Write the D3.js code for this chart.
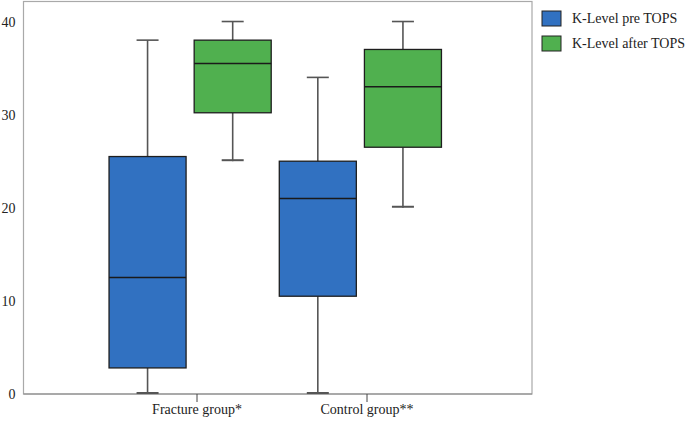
<!DOCTYPE html>
<html><head><meta charset="utf-8">
<script src="https://cdn.jsdelivr.net/npm/d3@7"></script>
<style>body{margin:0;background:#fff}svg{display:block}</style>
</head><body><svg id="c" width="685" height="421"></svg>
<script>
const groups = ["Fracture group*", "Control group**"];
const series = ["K-Level pre TOPS", "K-Level after TOPS"];
const colors = ["#3171c1", "#50b04f"];
const yTicks = [0, 10, 20, 30, 40];
// [min, q1, median, q3, max] per series per group
const preTOPS   = [[0, 2.8, 12.5, 25.5, 38], [0, 10.5, 21, 25, 34]];
const afterTOPS = [[25, 30.2, 35.5, 38, 40], [20, 26.5, 33, 37, 40]];

const FONT = "'Liberation Serif', 'Times New Roman', Times, 'DejaVu Serif', serif";
const svg = d3.select("#c");
const L = 23.5, R = 532, T = 1.5, B = 394;
const y = d3.scaleLinear().domain([0, 42.15]).range([B, T]);
const x = d3.scaleBand().domain(groups).range([105, 445.5]);
const x1 = d3.scaleBand().domain(series).range([0, x.bandwidth()]).paddingInner(0.095).paddingOuter(0.0475);

const data = [];
groups.forEach((g, gi) => {
  [preTOPS, afterTOPS].forEach((arr, si) => {
    const [mn, q1, md, q3, mx] = arr[gi];
    data.push({g, s: series[si], si, mn, q1, md, q3, mx});
  });
});

// frame
svg.append("rect").attr("x", L).attr("y", T).attr("width", R - L).attr("height", B - T)
  .attr("fill", "none").attr("stroke", "#a9a9a9").attr("stroke-width", 1.2);
svg.append("line").attr("x1", L).attr("x2", R).attr("y1", B).attr("y2", B).attr("stroke", "#888").attr("stroke-width", 1.2);

// y axis labels
const ya = svg.append("g").attr("transform", `translate(${L},0)`)
  .call(d3.axisLeft(y).tickValues(yTicks).tickSize(0).tickPadding(8));
ya.select(".domain").remove();
ya.selectAll("text").style("font-size", "14px").style("font-family", FONT).attr("fill", "#222");

// x axis
const xa = svg.append("g").attr("transform", `translate(0,${B})`)
  .call(d3.axisBottom(x.copy().range([112, 452])).tickSizeInner(8).tickSizeOuter(0).tickPadding(2));
xa.select(".domain").remove();
xa.selectAll(".tick line").attr("stroke", "#444");
xa.selectAll("text").style("font-size", "14px").style("font-family", FONT).attr("fill", "#222");

const cx = d => x(d.g) + x1(d.s) + x1.bandwidth() / 2;
const capW = 22;
const g = svg.append("g");
data.forEach(d => {
  const c = cx(d);
  g.append("line").attr("x1", c).attr("x2", c).attr("y1", y(d.q3)).attr("y2", y(d.mx)).attr("stroke", "#555").attr("stroke-width", 1.6);
  g.append("line").attr("x1", c).attr("x2", c).attr("y1", y(d.q1)).attr("y2", y(d.mn)).attr("stroke", "#555").attr("stroke-width", 1.6);
  g.append("line").attr("x1", c - capW / 2).attr("x2", c + capW / 2).attr("y1", y(d.mx)).attr("y2", y(d.mx)).attr("stroke", "#555").attr("stroke-width", 1.6);
  g.append("line").attr("x1", c - capW / 2).attr("x2", c + capW / 2).attr("y1", y(d.mn) - 1).attr("y2", y(d.mn) - 1).attr("stroke", "#555").attr("stroke-width", 2);
  g.append("rect").attr("x", x(d.g) + x1(d.s)).attr("width", x1.bandwidth())
    .attr("y", y(d.q3)).attr("height", y(d.q1) - y(d.q3))
    .attr("fill", colors[d.si]).attr("stroke", "#1e1e1e").attr("stroke-width", 1.3);
  g.append("line").attr("x1", x(d.g) + x1(d.s)).attr("x2", x(d.g) + x1(d.s) + x1.bandwidth())
    .attr("y1", y(d.md)).attr("y2", y(d.md)).attr("stroke", "#1a1a1a").attr("stroke-width", 1.5);
});

// legend
const lg = svg.append("g").attr("transform", "translate(542,11)");
series.forEach((s, i) => {
  const r = lg.append("g").attr("transform", `translate(0,${i * 25})`);
  r.append("rect").attr("width", 19).attr("height", 15).attr("fill", colors[i]).attr("stroke", "#222").attr("stroke-width", 1);
  r.append("text").attr("x", 30).attr("y", 12).style("font-size", "14px").style("font-family", FONT).attr("fill", "#222").text(s);
});
</script></body></html>
